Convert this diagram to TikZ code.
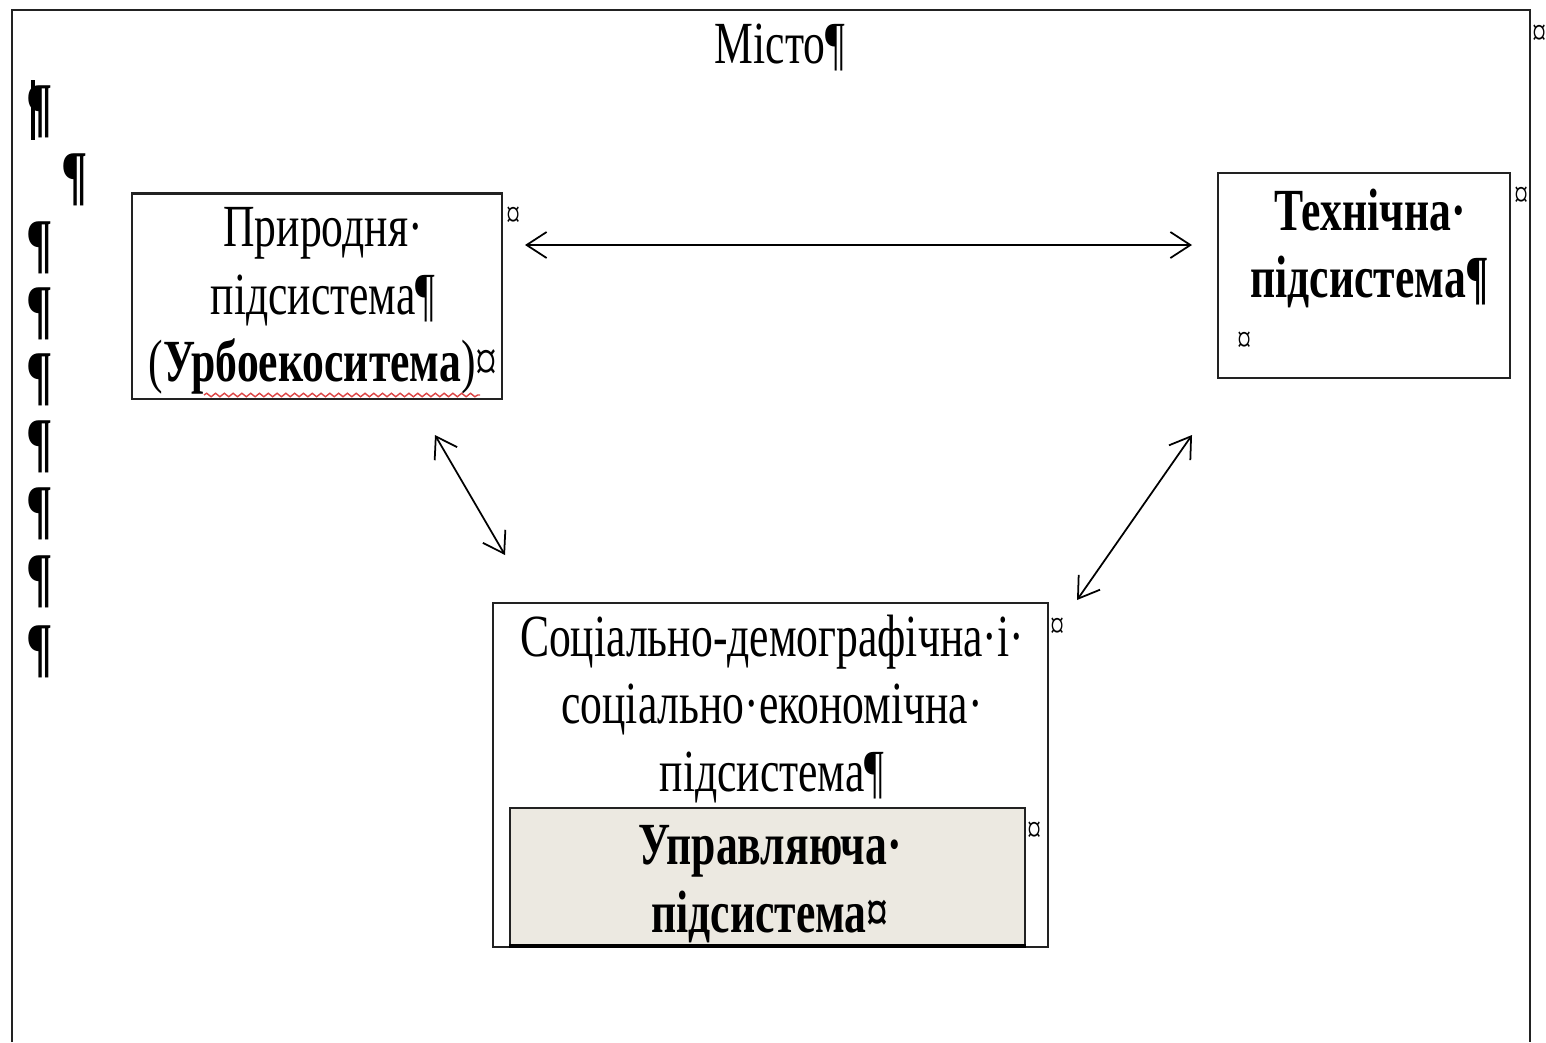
\documentclass[tikz,border=0pt]{standalone}
\usepackage{fontspec}
\newfontfamily\wordfont[FakeStretch=0.73]{Liberation Serif}
\usepackage{xcolor}
\definecolor{darkgray}{HTML}{222222}
\definecolor{ctrlfill}{RGB}{236,233,225}
\definecolor{spellred}{RGB}{220,70,70}
\usetikzlibrary{positioning,arrows.meta,decorations.pathmorphing}

\begin{document}
\begin{tikzpicture}[x=0.01cm, y=-0.01cm, node distance = 5mm,
		box/.style={rectangle, draw = darkgray, line width = 0.6pt, inner sep = 0pt},
		word/.style={font = \wordfont\fontsize{17}{19.2}\selectfont, align = center, inner sep = 0pt},
		bword/.style={word, font = \wordfont\bfseries\fontsize{17}{19.2}\selectfont},
		fmark/.style={font = \wordfont\fontsize{11}{11}\selectfont, inner sep = 0pt},
		pil/.style={font = \wordfont\bfseries\fontsize{19}{19}\selectfont, inner sep = 0pt},
		link/.style={<->, >={Straight Barb[length=2mm, width=2.6mm]}, line width = 0.5pt}]
		\useasboundingbox (0,0) rectangle (1546,1042);
		% frame
		\draw[darkgray, line width = 0.6pt] (12,1042) -- (12,10) -- (1530,10) -- (1530,1042);
		\node (M) [word] at (780,47) {Місто¶};
		\node (m0) [fmark] at (1540,35) {¤};
		% left column
		\draw[line width = 1.2pt] (33,80) -- (33,140);
		\node (p1) [pil] at (40,112) {¶};
		\node (p2) [pil] at (75,180) {¶};
		\node (p3) [pil] at (40,248) {¶};
		\node (p4) [pil] at (40,314) {¶};
		\node (p5) [pil] at (40,380) {¶};
		\node (p6) [pil] at (40,447) {¶};
		\node (p7) [pil] at (40,514) {¶};
		\node (p8) [pil] at (40,582) {¶};
		\node (p9) [pil] at (40,652) {¶};
		% subsystems
		\node (P) [box, minimum width = 3.70cm, minimum height = 2.05cm] at (317,296) {};
		\node (PP) [word, anchor = north] at (323,207) {Природня·\\підсистема¶\\(\textbf{Урбоекоситема})¤};
		\draw[spellred, line width = 0.4pt, decorate, decoration={snake, amplitude=0.5pt, segment length=2.5pt}] (204,395) -- (480,395);
		\node (m1) [fmark] at (514,217) {¤};
		\node (T) [box, minimum width = 2.92cm, minimum height = 2.05cm] at (1364,275.5) {};
		\node (TT) [bword, anchor = north] at (1370,188) {Технічна·\\підсистема¶};
		\node (m2) [fmark] at (1245,342) {¤};
		\node (m3) [fmark] at (1522,197) {¤};
		\node (S) [box, minimum width = 5.55cm, minimum height = 3.44cm] at (770.5,775) {};
		\node (SS) [word, anchor = north] at (772,614) {Соціально-демографічна·і·\\соціально·економічна·\\підсистема¶};
		\node (m4) [fmark] at (1058,628) {¤};
		\node (U) [box, fill = ctrlfill, minimum width = 5.15cm, minimum height = 1.37cm] at (767.5,876.5) {};
		\node (UU) [bword] at (770,884) {Управляюча·\\підсистема¤};
		\draw[line width = 1.2pt] (U.south west) -- (U.south east);
		\node (m5) [fmark] at (1035,832) {¤};
		% links
		\coordinate (a1) at (525,245);
		\coordinate (a2) at (1192,245);
		\coordinate (b1) at (435,435);
		\coordinate (b2) at (505,555);
		\coordinate (c1) at (1192,435);
		\coordinate (c2) at (1077,600);
		\draw[link] (a1) -- (a2);
		\draw[link] (b1) -- (b2);
		\draw[link] (c1) -- (c2);
	\end{tikzpicture}
\end{document}
